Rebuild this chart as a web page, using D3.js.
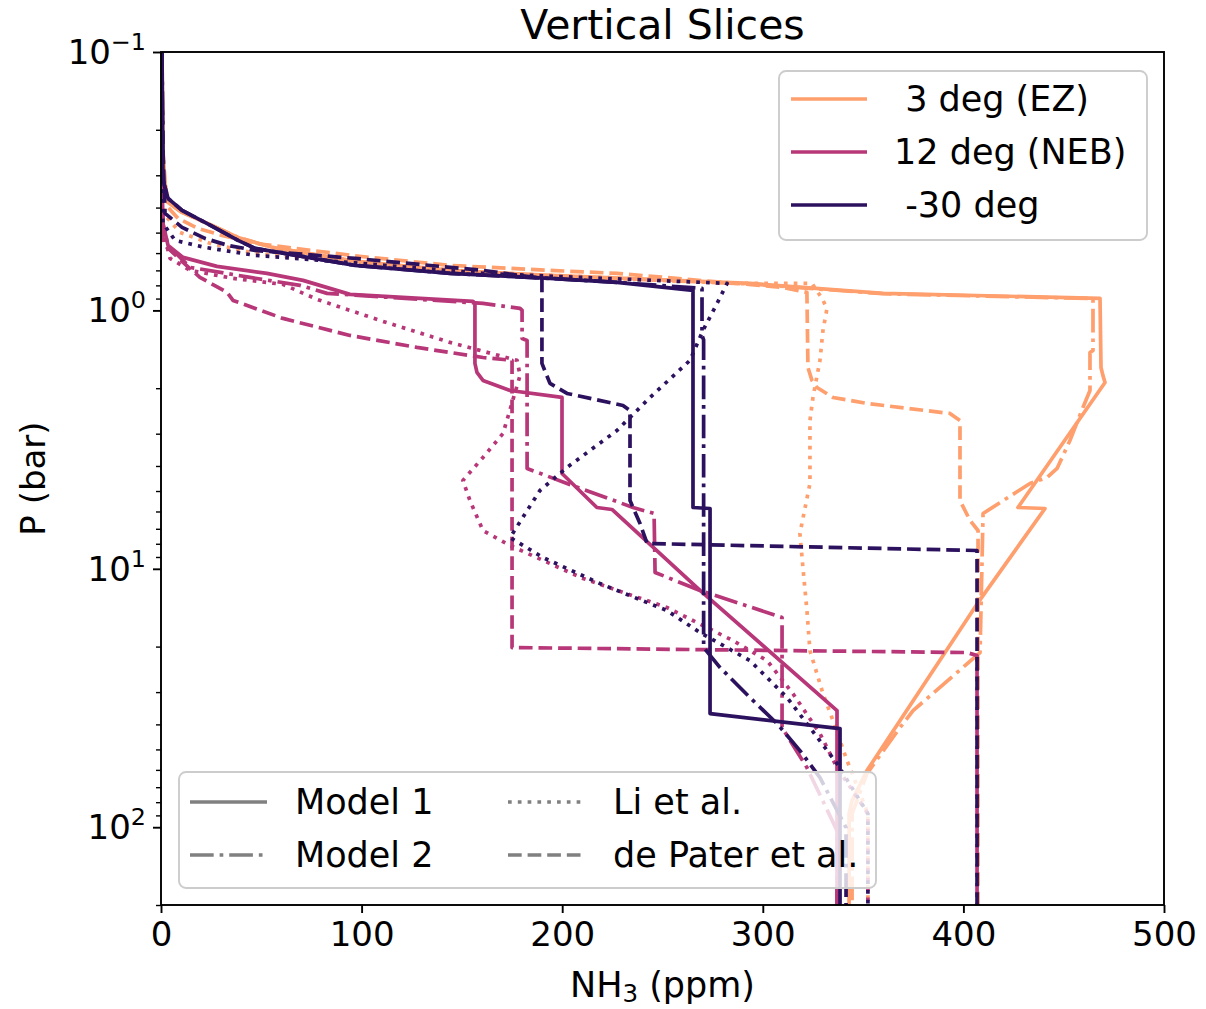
<!DOCTYPE html>
<html><head><meta charset="utf-8">
<script src="https://cdn.jsdelivr.net/npm/d3@7"></script>
<style>
body{margin:0;background:#fff}
svg{display:block}
text{font-family:"DejaVu Sans",sans-serif;fill:#000;white-space:pre}
</style>
</head><body>
<svg id="c" width="1206" height="1009" xmlns="http://www.w3.org/2000/svg"></svg>
<script>
// ---------- data (NH3 ppm, P bar) ----------
const latitudes = [" 3 deg (EZ)", "12 deg (NEB)", " -30 deg"];
const latColors = ["#fe9f6d", "#b73779", "#2c115f"];
const models = ["Model 1", "Model 2", "Li et al.", "de Pater et al."];
const xTicks = [0, 100, 200, 300, 400, 500];
const yTicks = [0.1, 1, 10, 100];
const yTickLabels = ["\u22121", "0", "1", "2"];

const ez_model1 = [[0.5,0.1],[1,0.24],[2,0.322],[3.5,0.382],[10.5,0.4175],[21.9,0.456],[38.4,0.522],[55.3,0.57],[96.7,0.645],[144.1,0.700],[194,0.732],[293.6,0.786],[360,0.859],[468.1,0.8985],[468.6,1.663],[469.5,1.78],[470.6,1.9],[427.2,5.79],[440.7,5.842],[408,13.27],[351.9,60.4],[344.5,78.9],[343,88.6],[343,200]];
const ez_model2 = [[0.5,0.1],[1,0.24],[2,0.322],[3.5,0.382],[10.5,0.4175],[21.9,0.456],[38.4,0.522],[55.3,0.57],[96.7,0.645],[144.1,0.702],[194,0.735],[293.6,0.79],[360,0.862],[464.6,0.90],[464.6,1.428],[463.1,1.454],[463.1,2.041],[459.6,2.374],[453.1,3.187],[446.7,4.09],[441.7,4.432],[433.2,4.675],[409.8,6.107],[408.3,21.09],[374.9,35.38],[368.4,41.16],[351.9,62.0],[344.5,88.6],[344.5,200]];
const ez_li = [[0,0.1],[0.5,0.343],[2,0.4288],[9.5,0.499],[24.4,0.55],[46.9,0.6016],[96.7,0.6518],[160.5,0.7126],[218.8,0.745],[285.1,0.786],[324.5,0.786],[329.5,0.8985],[332,0.9824],[330,1.195],[328.5,1.561],[325,2.172],[323.5,2.667],[323.5,4.675],[318.5,7.301],[320,9.886],[322,14.5],[323.5,20.72],[330,30.4],[335,38.67],[342,55.24],[343.4,58.79],[352.4,88.6],[352.4,200]];
const ez_depater = [[0,0.1],[0.5,0.3],[3.5,0.3993],[8.5,0.4404],[18.4,0.4815],[30.4,0.5125],[46.9,0.5503],[96.7,0.615],[144.1,0.6695],[193.9,0.70],[227.3,0.719],[310.1,0.8145],[322,0.8516],[322,0.8592],[322.5,1.663],[324.5,1.866],[327,1.987],[335,2.172],[351.9,2.291],[393.3,2.505],[398.3,2.667],[398.3,5.441],[403.3,6.501],[407.3,7.108],[407.3,200]];

const neb_model1 = [[0.3,0.1],[0.5,0.3138],[1,0.4605],[3.5,0.5603],[11,0.6234],[27.9,0.6755],[52.8,0.719],[70.8,0.7652],[94.2,0.8669],[155.5,0.923],[156.5,0.9395],[156.5,1.604],[157.5,1.738],[160.5,1.866],[174,2.041],[199.9,2.172],[199.9,4.276],[217.3,5.79],[224.8,5.894],[268.7,12.13],[337,35.38],[337,200]];
const neb_model2 = [[0.3,0.1],[0.5,0.3138],[1,0.4688],[3.5,0.5603],[14.5,0.6815],[44.4,0.745],[69.3,0.8001],[82.8,0.8592],[160.5,0.9395],[179,0.9824],[180,1],[180,1.284],[182.5,1.307],[182.5,4.09],[202.4,4.675],[235.3,5.79],[245.8,6.107],[246.3,10.33],[268.7,12.13],[309.6,15.43],[309.6,41.16],[322,58.79],[337,103.1],[337,200]];
const neb_li = [[0,0.1],[0.5,0.375],[1,0.4902],[4.5,0.629],[14.5,0.7],[35.9,0.7517],[60.8,0.793],[77.8,0.9066],[110.7,1.103],[144.1,1.33],[177.5,1.561],[179,1.785],[170.5,2.994],[160.5,3.708],[150.5,4.552],[154,5.441],[160.5,7.108],[174,8.125],[210.4,10.9],[252.2,14.12],[285.1,18.95],[302.1,22.65],[315,30.4],[328.5,43.42],[337,58.79],[352.4,88.6],[352.4,200]];
const neb_depater = [[0,0.1],[0.5,0.375],[1,0.5503],[11,0.6518],[19.4,0.745],[32.9,0.8516],[35.9,0.9147],[60.8,1.074],[94.2,1.25],[127.6,1.391],[160.5,1.521],[175,1.561],[175,20.17],[401.8,21.09],[406.8,21.66],[406.8,200]];

const s30_model1 = [[0.5,0.1],[1,0.3138],[3.5,0.3684],[10.5,0.4101],[21.9,0.4564],[38.4,0.5358],[46.9,0.5754],[96.7,0.6695],[144.1,0.719],[193.9,0.7517],[227.3,0.7789],[265.2,0.8365],[265.2,5.79],[273.7,5.842],[273.7,36.33],[338.5,41.53],[338.5,200]];
const s30_model2 = [[0.5,0.1],[1,0.3138],[3.5,0.3684],[10.5,0.4101],[21.9,0.4564],[38.4,0.5358],[46.9,0.5754],[96.7,0.6695],[144.1,0.719],[193.9,0.7517],[227.3,0.7789],[269.7,0.8218],[269.7,1.25],[270.5,1.3],[270.5,20.17],[278.7,24.11],[293.6,31.5],[307.1,39.72],[318.5,50.52],[328.5,64.27],[341.5,100.4],[341.5,200]];
const s30_li = [[0,0.1],[0.5,0.375],[1,0.4605],[7,0.5358],[21.9,0.5703],[46.9,0.6124],[96.7,0.655],[160.5,0.719],[282.2,0.7859],[277.2,0.9395],[270.2,1.195],[263.7,1.561],[243.8,2.172],[227.3,2.915],[202.4,4.054],[188.9,4.977],[174,7.566],[190.4,9.042],[218.8,11.4],[252.2,14.5],[268.7,17.65],[293.6,22.65],[312.1,31.5],[323.5,41.16],[337,56.73],[352.4,88.6],[352.4,200]];
const s30_depater = [[0.2,0.1],[1,0.2402],[2,0.4212],[10.5,0.4772],[21.9,0.5264],[33.4,0.5603],[46.9,0.5858],[96.7,0.629],[160.5,0.7],[189.9,0.7517],[189.9,1.604],[193.9,1.917],[202.4,2.096],[230.3,2.333],[233.8,2.439],[233.8,5.441],[238.8,6.677],[242.3,7.98],[406.8,8.495],[406.8,200]];

const seriesByLat = [
  [ez_model1, ez_model2, ez_li, ez_depater],
  [neb_model1, neb_model2, neb_li, neb_depater],
  [s30_model1, s30_model2, s30_li, s30_depater]
];

// ---------- layout ----------
const L = 161, R = 1164, T = 52, B = 905;
const lw = 3.7;
const dashes = ["none",
  [6.4, 1.6, 1, 1.6].map(v => v*lw).join(","),
  [1, 1.65].map(v => v*lw).join(","),
  [3.7, 1.6].map(v => v*lw).join(",")];

const svg = d3.select("#c");
const x = d3.scaleLinear().domain([0, 500]).range([L, R]);
const y = d3.scaleLog().domain([0.1, 200]).range([T, B]);

svg.append("defs").append("clipPath").attr("id","clip")
  .append("rect").attr("x",L).attr("y",T).attr("width",R-L).attr("height",B-T);

const line = d3.line().x(d => x(d[0])).y(d => y(d[1]));
const g = svg.append("g").attr("clip-path","url(#clip)");
seriesByLat.forEach((arr, li) => {
  arr.forEach((s, mi) => {
    g.append("path").attr("d", line(s))
      .attr("fill","none").attr("stroke", latColors[li])
      .attr("stroke-width", lw)
      .attr("stroke-dasharray", dashes[mi])
      .attr("stroke-linejoin","round")
      .attr("stroke-linecap", mi === 0 ? "square" : "butt");
  });
});

// ---------- axes ----------
const fs = 34;
const xAxis = d3.axisBottom(x).tickValues(xTicks).tickSize(8).tickPadding(8).tickFormat(d3.format("d"));
const gx = svg.append("g").attr("transform",`translate(0,${B})`).call(xAxis);
gx.select(".domain").remove();
gx.selectAll("line").attr("stroke","#000").attr("stroke-width",1.9);
gx.selectAll("text").attr("font-size",fs).attr("font-family","DejaVu Sans").attr("dy","0.74em");

const minor = [];
[0.1,1,10,100].forEach(dec => { for (let k=2;k<=9;k++){ const v=dec*k; if (v<=200) minor.push(v);} });
const yMinor = d3.axisLeft(y).tickValues(minor).tickSize(5).tickFormat("");
const gym = svg.append("g").attr("transform",`translate(${L},0)`).call(yMinor);
gym.select(".domain").remove();
gym.selectAll("line").attr("stroke","#000").attr("stroke-width",1.4);

const yAxis = d3.axisLeft(y).tickValues(yTicks).tickSize(8).tickFormat("");
const gy = svg.append("g").attr("transform",`translate(${L},0)`).call(yAxis);
gy.select(".domain").remove();
gy.selectAll("line").attr("stroke","#000").attr("stroke-width",1.9);
yTicks.forEach((v, i) => {
  const t = svg.append("text").attr("x", L-15).attr("y", y(v)+12)
    .attr("text-anchor","end").attr("font-size",fs);
  t.append("tspan").text("10");
  t.append("tspan").attr("dy",-14).attr("font-size",fs*0.7).text(yTickLabels[i]);
});

// spines
svg.append("rect").attr("x",L).attr("y",T).attr("width",R-L).attr("height",B-T)
  .attr("fill","none").attr("stroke","#000").attr("stroke-width",1.9);

// title & labels
svg.append("text").attr("x",(L+R)/2).attr("y",39).attr("text-anchor","middle")
  .attr("font-size",41).text("Vertical Slices");
const xl = svg.append("text").attr("x",(L+R)/2).attr("y",997).attr("text-anchor","middle").attr("font-size",35);
xl.append("tspan").text("NH");
xl.append("tspan").attr("font-size",35*0.7).attr("dy",5).text("3");
xl.append("tspan").attr("dy",-5).text(" (ppm)");
svg.append("text").attr("transform",`translate(45,${(T+B)/2}) rotate(-90)`)
  .attr("text-anchor","middle").attr("font-size",fs).text("P (bar)");

// ---------- legend 1 (latitudes) ----------
const lg1 = svg.append("g");
lg1.append("rect").attr("x",779).attr("y",71).attr("width",368).attr("height",169).attr("rx",7)
  .attr("fill","#fff").attr("fill-opacity",0.8).attr("stroke","#cccccc").attr("stroke-width",1.9);
latitudes.forEach((lab, i) => {
  const yy = 99 + i*53;
  lg1.append("line").attr("x1",791).attr("x2",867).attr("y1",yy).attr("y2",yy)
    .attr("stroke",latColors[i]).attr("stroke-width",lw);
  lg1.append("text").attr("x",894).attr("y",yy+12).attr("font-size",35).text(lab);
});

// ---------- legend 2 (models) ----------
const lg2 = svg.append("g");
lg2.append("rect").attr("x",179).attr("y",772).attr("width",697).attr("height",116).attr("rx",7)
  .attr("fill","#fff").attr("fill-opacity",0.8).attr("stroke","#cccccc").attr("stroke-width",1.9);
const lpos = [[190,802],[190,855],[508,802],[508,855]];
models.forEach((lab, i) => {
  const [lx, ly] = lpos[i];
  lg2.append("line").attr("x1",lx).attr("x2",lx+77).attr("y1",ly).attr("y2",ly)
    .attr("stroke","#808080").attr("stroke-width",lw).attr("stroke-dasharray",dashes[i]);
  lg2.append("text").attr("x",lx+105).attr("y",ly+12).attr("font-size",35).text(lab);
});
</script>
</body></html>
